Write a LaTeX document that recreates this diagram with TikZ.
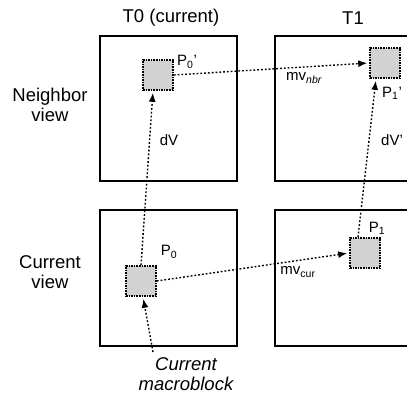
\documentclass[tikz,border=0pt]{standalone}
\usepackage{fontspec}
\setmainfont{Liberation Sans}
\usetikzlibrary{arrows.meta,positioning}

\begin{document}
\begin{tikzpicture}[x=1pt,y=-1pt,
  every node/.style={font=\fontsize{15}{17}\selectfont, inner sep=0pt},
  hd/.style={font=\fontsize{18.5}{20}\selectfont, align=center},
  fr/.style={draw, line width=1.8pt, minimum width=137pt, minimum height=#1},
  blk/.style={draw, dash pattern=on 1.6pt off 1pt, line width=1.6pt,
              fill=gray!35, minimum size=30pt},
  ar/.style={dash pattern=on 1.8pt off 2pt, line width=1.4pt,
             -{Latex[length=9pt,width=7pt]}, shorten >=2pt}]
  \useasboundingbox (0,0) rectangle (407,403);
  \clip (0,0) rectangle (407,403);
  % column and row heads
  \node[hd] (h0) at (171,18) {T0 (current)};
  \node[hd] (h1) at (353,18) {T1};
  \node[hd] (rn) at (50,105) {Neighbor\\view};
  \node[hd] (rc) at (50,272) {Current\\view};
  % pictures
  \node[fr=145pt] (ftl) at (168.5,108.5) {};
  \node[fr=145pt] (ftr) at (343.5,108.5) {};
  \node[fr=136pt] (fbl) at (168.5,278) {};
  \node[fr=136pt] (fbr) at (343.5,278) {};
  % blocks
  \node[blk] (b0n) at (158,75) {};
  \node[blk] (b1n) at (385,63) {};
  \node[blk] (b0c) at (141,281) {};
  \node[blk] (b1c) at (365,253) {};
  \node (p0n) at (187,62) {P\textsubscript{0}'};
  \node (p1n) at (392,93) {P\textsubscript{1}'};
  \node (p0c) at (169,252) {P\textsubscript{0}};
  \node (p1c) at (377,228) {P\textsubscript{1}};
  % vectors
  \draw[ar] (b0n.east) -- (b1n.west);
  \draw[ar] (b0c.east) -- (b1c.west);
  \draw[ar] (b0c.north) -- ([xshift=-5pt]b0n.south);
  \draw[ar] ([xshift=-7pt]b1c.north) -- ([xshift=-9pt]b1n.south);
  \node (mvn) at (304,78) {mv\textsubscript{\itshape nbr}};
  \node (mvc) at (298,272) {mv\textsubscript{cur}};
  \node (dv) at (169,140) {dV};
  \node (dv1) at (392,140) {dV'};
  % current macroblock
  \node[hd, font=\fontsize{18.5}{20}\selectfont\itshape] (cm) at (186,374)
    {Current\\macroblock};
  \coordinate (cmt) at (153,352);
  \draw[ar] (cmt) -- ([xshift=2pt]b0c.south);
\end{tikzpicture}
\end{document}
